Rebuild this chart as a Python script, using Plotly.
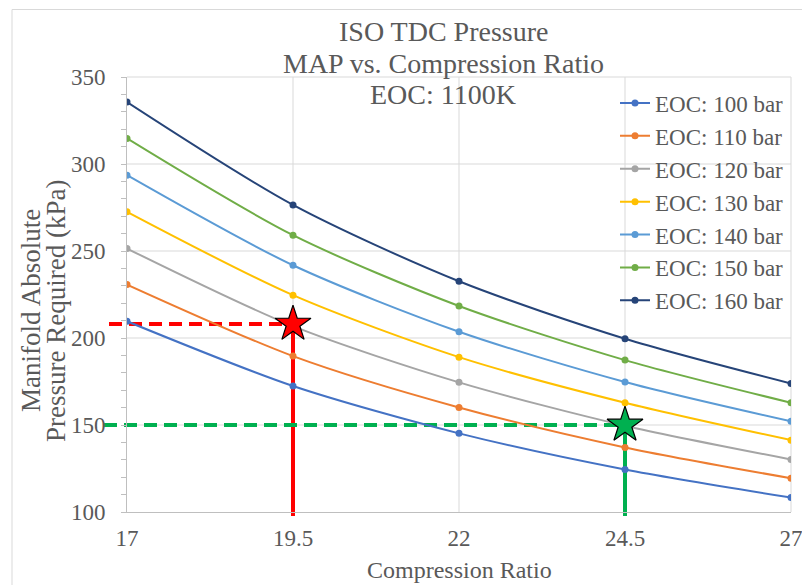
import plotly.graph_objects as go

# Compression ratios on the x axis
compression_ratio = [17, 19.5, 22, 24.5, 27]

# Required manifold absolute pressure (kPa) for each end-of-compression pressure
eoc_100 = [209.6, 172.4, 145.2, 124.4, 108.3]
eoc_110 = [230.7, 189.6, 160.1, 137.1, 119.4]
eoc_120 = [251.4, 206.8, 174.5, 149.6, 130.2]
eoc_130 = [272.5, 224.6, 189.0, 162.8, 141.3]
eoc_140 = [293.6, 241.8, 203.6, 174.7, 152.1]
eoc_150 = [314.7, 259.1, 218.4, 187.3, 162.8]
eoc_160 = [335.6, 276.5, 232.6, 199.6, 173.9]

series_names = ["EOC: 100 bar", "EOC: 110 bar", "EOC: 120 bar", "EOC: 130 bar",
                "EOC: 140 bar", "EOC: 150 bar", "EOC: 160 bar"]
series_values = [eoc_100, eoc_110, eoc_120, eoc_130, eoc_140, eoc_150, eoc_160]
series_colors = ["#4472C4", "#ED7D31", "#A5A5A5", "#FFC000", "#5B9BD5", "#70AD47", "#264478"]

# Highlighted operating points
point_cr = [19.5, 24.5]
point_map = [208, 150]
point_colors = ["#FF0000", "#00B050"]

x_ticks = [17, 19.5, 22, 24.5, 27]
y_ticks = [100, 150, 200, 250, 300, 350]
X_MIN, X_MAX = 17, 27
Y_MIN, Y_MAX = 100, 350

# page / plot-area geometry (px)
W_PX, H_PX = 802, 585
M_L, M_R, M_T, M_B = 127, 11, 77, 73
PLOT_W = W_PX - M_L - M_R
PLOT_H = H_PX - M_T - M_B

def px_to_paper_x(p):
    return (p - M_L) / PLOT_W

def px_to_paper_y(p):
    return (H_PX - M_B - p) / PLOT_H

def data_to_paper_x(v):
    return (v - X_MIN) / (X_MAX - X_MIN)

def data_to_paper_y(v):
    return (v - Y_MIN) / (Y_MAX - Y_MIN)

FONT = "Liberation Serif, Times New Roman, serif"
TEXT = "#595959"
GRID = "#D9D9D9"
AXIS = "#BFBFBF"

fig = go.Figure()

for i, (name, vals, col) in enumerate(zip(series_names, series_values, series_colors)):
    fig.add_trace(go.Scatter(
        x=compression_ratio, y=vals, name=name, mode="lines+markers",
        line=dict(color=col, width=2, shape="spline", smoothing=0.8),
        marker=dict(color=col, size=7),
    ))

fig.add_trace(go.Scatter(
    x=point_cr, y=point_map, mode="markers", showlegend=False,
    marker=dict(symbol="star", size=27, color=point_colors,
                line=dict(color="black", width=1.2)),
    cliponaxis=False,
))

shapes = []

# chart-area border
shapes.append(dict(
    type="rect", xref="paper", yref="paper", layer="below",
    x0=px_to_paper_x(12), x1=px_to_paper_x(W_PX + 10),
    y0=px_to_paper_y(H_PX + 10), y1=px_to_paper_y(9.5),
    line=dict(color=GRID, width=1), fillcolor="rgba(0,0,0,0)",
))

# gridlines (drawn as shapes so the guide lines sit on top of them)
for xv in x_ticks[1:]:
    shapes.append(dict(
        type="line", xref="paper", yref="paper", layer="below",
        x0=data_to_paper_x(xv), x1=data_to_paper_x(xv), y0=0, y1=1,
        line=dict(color=GRID, width=1),
    ))
for yv in y_ticks[1:]:
    shapes.append(dict(
        type="line", xref="paper", yref="paper", layer="below",
        x0=0, x1=1, y0=data_to_paper_y(yv), y1=data_to_paper_y(yv),
        line=dict(color=GRID, width=1),
    ))

# guide lines from each highlighted point to the axes
line_starts_px = [109, 104]
for cr, mp, col, start in zip(point_cr, point_map, point_colors, line_starts_px):
    shapes.append(dict(
        type="line", xref="paper", yref="paper", layer="below",
        x0=px_to_paper_x(start), x1=data_to_paper_x(cr),
        y0=data_to_paper_y(mp), y1=data_to_paper_y(mp),
        line=dict(color=col, width=4, dash="13px,7px"),
    ))
    shapes.append(dict(
        type="line", xref="paper", yref="paper", layer="below",
        x0=data_to_paper_x(cr), x1=data_to_paper_x(cr),
        y0=data_to_paper_y(mp), y1=px_to_paper_y(H_PX - M_B + 4),
        line=dict(color=col, width=4),
    ))

annotations = []
title_lines = ["ISO TDC Pressure", "MAP vs. Compression Ratio", "EOC: 1100K"]
title_centers_px = [31, 63, 95]
for txt, cy in zip(title_lines, title_centers_px):
    annotations.append(dict(
        text=txt, xref="paper", yref="paper", x=px_to_paper_x(443), y=px_to_paper_y(cy),
        xanchor="center", yanchor="middle", showarrow=False,
        font=dict(family=FONT, size=28, color=TEXT),
    ))

ytitle_lines = ["Manifold Absolute", "Pressure Required (kPa)"]
ytitle_x_px = [31, 56]
for txt, cx in zip(ytitle_lines, ytitle_x_px):
    annotations.append(dict(
        text=txt, xref="paper", yref="paper", x=px_to_paper_x(cx), y=px_to_paper_y(311),
        xanchor="center", yanchor="middle", textangle=-90, showarrow=False,
        font=dict(family=FONT, size=27, color=TEXT),
    ))

annotations.append(dict(
    text="Compression Ratio", xref="paper", yref="paper",
    x=0.5, y=px_to_paper_y(570), xanchor="center", yanchor="middle", showarrow=False,
    font=dict(family=FONT, size=24, color=TEXT),
))

fig.update_layout(
    width=W_PX, height=H_PX,
    margin=dict(l=M_L, r=M_R, t=M_T, b=M_B, pad=0, autoexpand=False),
    paper_bgcolor="white", plot_bgcolor="white",
    showlegend=True,
    legend=dict(
        x=px_to_paper_x(615), y=px_to_paper_y(81.5), xanchor="left", yanchor="top",
        bgcolor="rgba(0,0,0,0)", borderwidth=0,
        font=dict(family=FONT, size=23, color=TEXT),
        tracegroupgap=0, traceorder="normal",
    ),
    xaxis=dict(
        range=[X_MIN, X_MAX], tickvals=x_ticks, ticktext=[str(v) for v in x_ticks],
        showgrid=False, automargin=False,
        showline=True, linecolor=AXIS, linewidth=1,
        ticks="", zeroline=False,
        tickfont=dict(family=FONT, size=23, color=TEXT),
        ticklabelstandoff=5, ticklabeloverflow="allow",
    ),
    yaxis=dict(
        range=[Y_MIN, Y_MAX], tickvals=y_ticks,
        showgrid=False, automargin=False,
        showline=True, linecolor=AXIS, linewidth=1,
        ticks="outside", ticklen=5, tickcolor=AXIS,
        minor=dict(dtick=10, ticks="outside", ticklen=5, tickcolor=AXIS, showgrid=False),
        zeroline=False,
        tickfont=dict(family=FONT, size=23, color=TEXT),
        ticklabelstandoff=11,
    ),
    yaxis2=dict(
        overlaying="y", anchor="x", side="left", range=[Y_MIN, Y_MAX], tickvals=y_ticks,
        showgrid=False, showline=False, zeroline=False, showticklabels=False, automargin=False,
        ticks="inside", ticklen=5, tickcolor=AXIS,
        minor=dict(dtick=10, ticks="inside", ticklen=5, tickcolor=AXIS, showgrid=False),
    ),
    shapes=shapes,
    annotations=annotations,
)

fig.write_html("out.html")
